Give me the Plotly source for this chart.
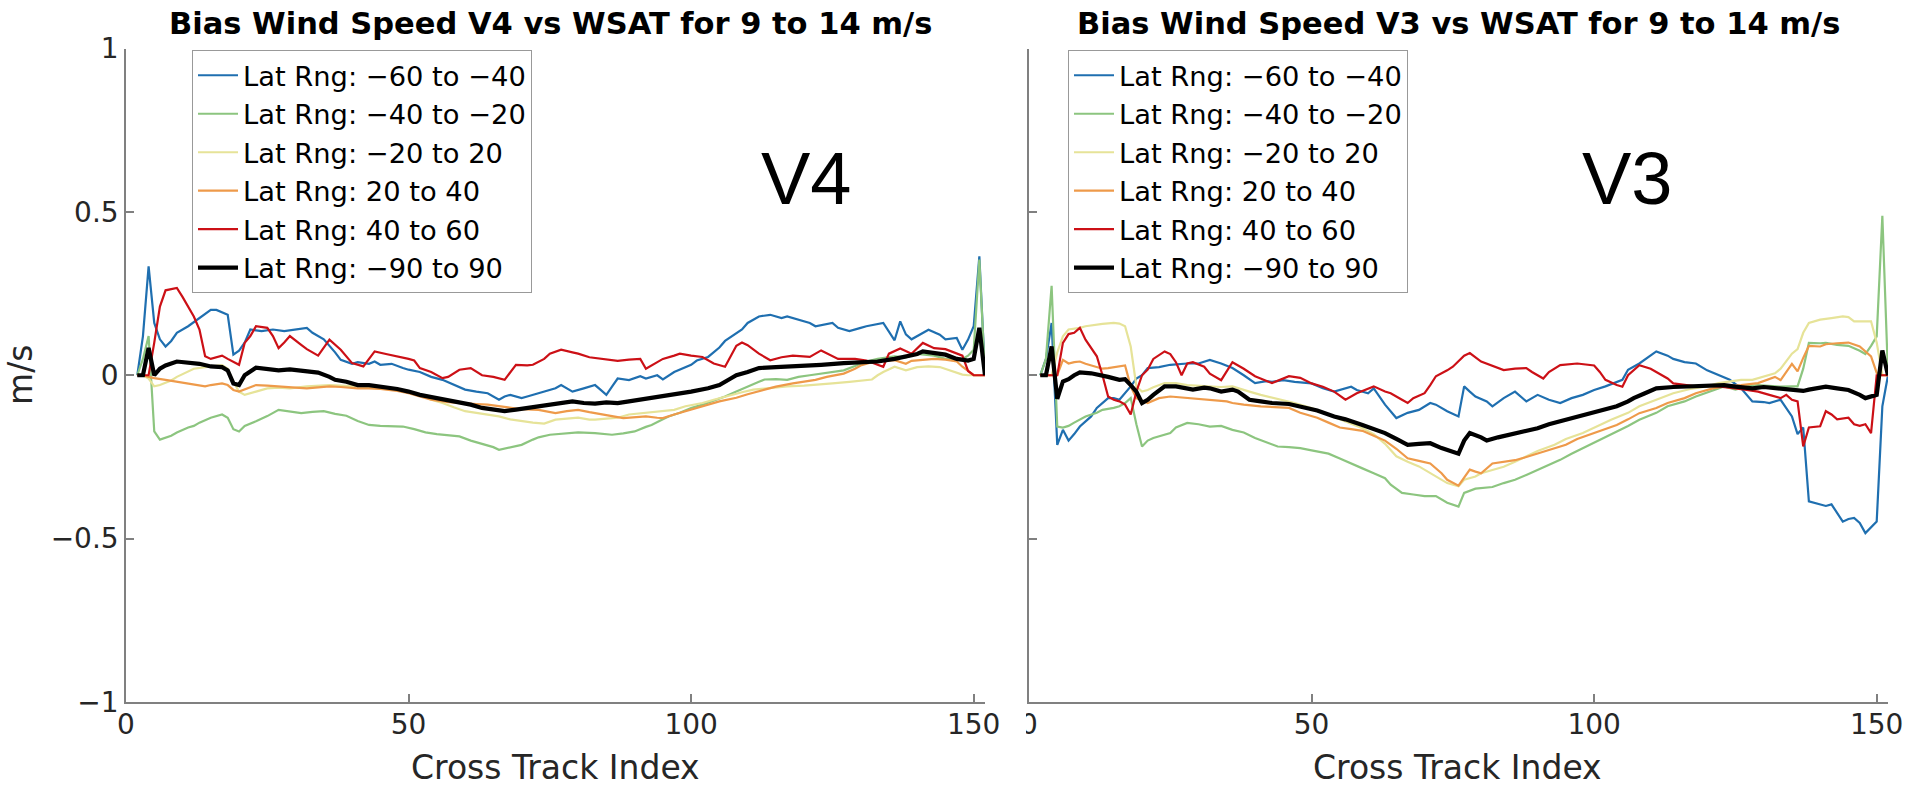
import plotly.graph_objects as go

# ---------------- data ----------------
labels = ["Lat Rng: \u221260 to \u221240", "Lat Rng: \u221240 to \u221220", "Lat Rng: \u221220 to 20",
          "Lat Rng: 20 to 40", "Lat Rng: 40 to 60", "Lat Rng: \u221290 to 90"]
colors = ["#1f6fb0", "#8cc57f", "#e6e398", "#ee9a4a", "#cc1016", "#000000"]
widths = [2.2, 2.2, 2.2, 2.2, 2.2, 4.2]

# ---- V4 ----
v4_blue = [(2,0),(3,0.12),(4,0.333),(5,0.16),(6,0.11),(7,0.088),(8,0.105),(9,0.13),(11,0.15),(13,0.175),(15,0.2),(16,0.2),(18,0.185),(19,0.063),(20,0.075),(21,0.1),(22,0.14),(24,0.135),(26,0.14),(28,0.135),(30,0.14),(32,0.145),(33,0.13),(35,0.11),(37,0.07),(38,0.047),(40,0.035),(41,0.04),(43,0.035),(44,0.042),(45,0.032),(47,0.035),(49,0.022),(50,0.017),(52,0.01),(54,-0.005),(56,-0.014),(58,-0.03),(60,-0.044),(62,-0.05),(64,-0.055),(66,-0.075),(67,-0.065),(68,-0.06),(70,-0.07),(71,-0.065),(73,-0.055),(75,-0.044),(76,-0.04),(77,-0.03),(78,-0.04),(79,-0.05),(81,-0.04),(83,-0.03),(84,-0.045),(85,-0.06),(86,-0.035),(87,-0.01),(89,-0.015),(91,-0.003),(92,-0.01),(94,0.0),(95,-0.013),(97,0.01),(100,0.032),(101,0.045),(103,0.056),(105,0.085),(106,0.105),(109,0.14),(110,0.16),(112,0.18),(114,0.185),(116,0.175),(117,0.18),(119,0.17),(121,0.16),(122,0.15),(125,0.16),(126,0.145),(128,0.135),(130,0.145),(131,0.15),(134,0.16),(136,0.107),(137,0.165),(138,0.125),(139,0.11),(142,0.139),(144,0.124),(145,0.11),(147,0.114),(148,0.078),(149,0.109),(150,0.15),(151,0.364),(152,0)]
v4_green = [(2,0),(3,0.05),(4,0.12),(5,-0.172),(6,-0.197),(7,-0.19),(8,-0.185),(9,-0.175),(11,-0.16),(12,-0.155),(13,-0.145),(15,-0.13),(17,-0.12),(18,-0.13),(19,-0.165),(20,-0.172),(21,-0.155),(23,-0.141),(25,-0.125),(27,-0.106),(29,-0.11),(31,-0.116),(33,-0.112),(35,-0.11),(37,-0.118),(39,-0.124),(41,-0.14),(43,-0.152),(45,-0.155),(47,-0.157),(49,-0.157),(51,-0.165),(53,-0.175),(55,-0.18),(57,-0.183),(59,-0.187),(61,-0.2),(63,-0.21),(65,-0.22),(66,-0.228),(68,-0.22),(70,-0.213),(72,-0.197),(73,-0.19),(75,-0.182),(77,-0.18),(78,-0.177),(80,-0.175),(83,-0.177),(85,-0.18),(86,-0.182),(88,-0.178),(90,-0.172),(92,-0.158),(93,-0.152),(95,-0.135),(96,-0.126),(98,-0.115),(100,-0.1),(102,-0.09),(104,-0.078),(106,-0.065),(108,-0.05),(110,-0.034),(112,-0.02),(113,-0.013),(115,-0.012),(117,-0.014),(119,-0.005),(121,0.0),(123,0.005),(125,0.01),(127,0.015),(129,0.028),(131,0.042),(133,0.05),(136,0.058),(138,0.055),(140,0.065),(143,0.06),(145,0.05),(148,0.05),(149,0.06),(150,0.078),(151,0.354),(152,0)]
v4_yellow = [(2,0),(3,0),(4,-0.01),(5,-0.034),(6,-0.03),(8,-0.016),(9,-0.005),(11,0.01),(12,0.02),(14,0.025),(16,0.03),(17,0.031),(18,0.02),(19,-0.02),(20,-0.05),(21,-0.06),(23,-0.05),(25,-0.04),(27,-0.038),(29,-0.04),(32,-0.034),(34,-0.032),(36,-0.03),(38,-0.032),(41,-0.034),(43,-0.038),(45,-0.04),(48,-0.045),(50,-0.05),(52,-0.06),(54,-0.075),(56,-0.085),(58,-0.098),(60,-0.11),(62,-0.115),(64,-0.12),(66,-0.126),(68,-0.135),(70,-0.141),(72,-0.145),(74,-0.148),(76,-0.136),(78,-0.133),(80,-0.13),(82,-0.136),(83,-0.136),(85,-0.133),(87,-0.13),(89,-0.12),(91,-0.116),(94,-0.11),(97,-0.106),(99,-0.095),(102,-0.085),(104,-0.075),(106,-0.065),(109,-0.052),(111,-0.044),(114,-0.038),(117,-0.034),(120,-0.032),(122,-0.03),(125,-0.025),(128,-0.02),(130,-0.016),(132,-0.013),(133,0.0),(134,0.01),(136,0.026),(138,0.015),(140,0.025),(142,0.027),(144,0.025),(146,0.014),(148,0.002),(149,0.0),(150,0.0),(151,0.0),(152,0)]
v4_orange = [(2,0),(3,0),(4,-0.005),(5,-0.009),(7,-0.014),(9,-0.02),(11,-0.025),(12,-0.03),(14,-0.034),(15,-0.03),(17,-0.025),(18,-0.03),(19,-0.045),(20,-0.05),(22,-0.035),(23,-0.03),(25,-0.032),(27,-0.035),(30,-0.038),(32,-0.04),(34,-0.037),(36,-0.034),(38,-0.036),(41,-0.04),(43,-0.04),(45,-0.042),(48,-0.048),(50,-0.055),(52,-0.065),(54,-0.075),(57,-0.082),(59,-0.085),(62,-0.088),(64,-0.09),(66,-0.095),(68,-0.1),(70,-0.104),(73,-0.106),(75,-0.112),(76,-0.116),(78,-0.11),(80,-0.106),(82,-0.113),(84,-0.12),(86,-0.125),(88,-0.131),(90,-0.128),(92,-0.126),(94,-0.13),(95,-0.131),(97,-0.12),(99,-0.11),(101,-0.1),(103,-0.09),(105,-0.08),(108,-0.069),(110,-0.058),(113,-0.044),(115,-0.035),(118,-0.025),(120,-0.02),(122,-0.014),(124,-0.005),(127,0.005),(129,0.02),(130,0.03),(132,0.04),(134,0.044),(136,0.046),(138,0.035),(139,0.044),(141,0.047),(143,0.05),(145,0.048),(147,0.042),(148,0.026),(149,0.014),(150,0.0),(151,0),(152,0)]
v4_red = [(2,0),(3,0),(4,0),(5,0.1),(6,0.21),(7,0.26),(9,0.267),(10,0.24),(11,0.21),(12,0.18),(13,0.14),(14,0.058),(15,0.05),(16,0.055),(17,0.06),(18,0.05),(19,0.04),(20,0.032),(21,0.099),(22,0.12),(23,0.15),(24,0.148),(25,0.145),(26,0.12),(27,0.083),(28,0.1),(29,0.12),(31,0.093),(32,0.08),(34,0.06),(36,0.109),(38,0.078),(40,0.037),(42,0.027),(44,0.073),(46,0.065),(48,0.058),(50,0.05),(51,0.045),(52,0.022),(54,0.01),(56,-0.009),(57,-0.005),(59,0.017),(61,0.022),(63,0.0),(65,-0.005),(67,-0.014),(69,0.032),(71,0.03),(72,0.032),(74,0.05),(75,0.066),(77,0.078),(79,0.07),(80,0.066),(82,0.055),(84,0.05),(87,0.044),(89,0.048),(91,0.05),(92,0.02),(95,0.05),(97,0.06),(98,0.066),(100,0.06),(102,0.056),(104,0.036),(106,0.026),(108,0.09),(109,0.1),(110,0.092),(112,0.066),(114,0.046),(116,0.055),(118,0.06),(121,0.056),(123,0.076),(126,0.05),(129,0.05),(131,0.045),(134,0.026),(135,0.066),(137,0.082),(139,0.066),(141,0.099),(143,0.083),(145,0.08),(147,0.067),(148,0.06),(149,0.013),(150,0.0),(151,0),(152,0)]
v4_black = [(2,0),(3,0.0),(4,0.084),(5,0.0),(6,0.02),(7,0.03),(9,0.042),(11,0.04),(13,0.035),(15,0.027),(17,0.025),(18,0.015),(19,-0.025),(20,-0.03),(21,0.0),(23,0.023),(25,0.02),(27,0.015),(29,0.018),(32,0.012),(34,0.008),(36,-0.005),(37,-0.014),(39,-0.02),(41,-0.03),(43,-0.03),(45,-0.034),(48,-0.042),(50,-0.05),(52,-0.06),(55,-0.07),(58,-0.08),(61,-0.09),(63,-0.1),(65,-0.105),(67,-0.11),(69,-0.105),(71,-0.1),(73,-0.095),(75,-0.09),(77,-0.085),(79,-0.08),(81,-0.085),(83,-0.087),(85,-0.083),(87,-0.085),(89,-0.08),(91,-0.075),(93,-0.07),(96,-0.06),(100,-0.05),(103,-0.04),(105,-0.03),(107,-0.01),(108,0.0),(110,0.01),(112,0.022),(115,0.025),(118,0.027),(120,0.027),(123,0.032),(127,0.037),(130,0.04),(133,0.042),(136,0.05),(138,0.058),(140,0.065),(141,0.073),(143,0.068),(145,0.063),(147,0.05),(148,0.047),(149,0.045),(150,0.05),(151,0.145),(152,0)]

# ---- V3 ----
v3_blue = [(2,0),(3,0.05),(4,0.16),(5,-0.213),(6,-0.167),(7,-0.2),(8,-0.18),(9,-0.157),(11,-0.126),(12,-0.1),(14,-0.07),(15,-0.07),(16,-0.075),(17,-0.055),(18,-0.034),(19,-0.01),(20,0.0),(21,0.022),(23,0.025),(25,0.032),(28,0.036),(30,0.036),(32,0.047),(34,0.036),(36,0.022),(38,0.0),(40,-0.024),(42,-0.018),(43,-0.02),(45,-0.015),(47,-0.02),(50,-0.025),(52,-0.04),(54,-0.05),(55,-0.045),(57,-0.035),(58,-0.045),(60,-0.055),(61,-0.04),(63,-0.09),(65,-0.131),(67,-0.115),(69,-0.106),(71,-0.085),(72,-0.09),(74,-0.11),(76,-0.126),(77,-0.034),(78,-0.05),(79,-0.065),(81,-0.08),(82,-0.095),(84,-0.07),(86,-0.05),(88,-0.08),(90,-0.06),(92,-0.075),(94,-0.085),(96,-0.07),(98,-0.06),(100,-0.045),(102,-0.034),(105,-0.014),(106,0.017),(108,0.036),(110,0.06),(111,0.073),(113,0.06),(114,0.05),(116,0.04),(118,0.036),(120,0.015),(122,0.0),(124,-0.014),(126,-0.04),(128,-0.08),(130,-0.082),(131,-0.085),(133,-0.075),(135,-0.126),(136,-0.18),(137,-0.16),(138,-0.386),(139,-0.39),(141,-0.4),(142,-0.395),(143,-0.42),(144,-0.448),(145,-0.44),(146,-0.437),(147,-0.452),(148,-0.483),(150,-0.448),(151,-0.095),(152,0)]
v3_green = [(2,0),(3,0.05),(4,0.274),(5,-0.157),(6,-0.16),(7,-0.155),(8,-0.145),(9,-0.135),(10,-0.126),(12,-0.115),(13,-0.106),(15,-0.1),(16,-0.095),(17,-0.085),(18,-0.07),(19,-0.15),(20,-0.218),(21,-0.2),(22,-0.192),(25,-0.177),(26,-0.16),(28,-0.146),(30,-0.15),(32,-0.157),(34,-0.155),(36,-0.167),(38,-0.175),(40,-0.192),(42,-0.205),(44,-0.218),(46,-0.22),(48,-0.223),(50,-0.23),(53,-0.24),(55,-0.255),(57,-0.269),(59,-0.285),(61,-0.3),(63,-0.315),(64,-0.335),(66,-0.36),(68,-0.365),(70,-0.37),(72,-0.37),(74,-0.39),(76,-0.402),(77,-0.36),(79,-0.347),(80,-0.345),(82,-0.342),(84,-0.33),(86,-0.32),(88,-0.305),(90,-0.29),(92,-0.275),(94,-0.259),(96,-0.24),(98,-0.223),(100,-0.205),(103,-0.182),(106,-0.155),(108,-0.136),(111,-0.115),(113,-0.095),(116,-0.08),(118,-0.065),(121,-0.045),(123,-0.034),(125,-0.044),(127,-0.034),(129,-0.03),(131,-0.032),(133,-0.035),(135,-0.034),(136,-0.034),(137,0.02),(138,0.099),(140,0.098),(141,0.099),(143,0.093),(145,0.09),(147,0.075),(148,0.065),(149,0.09),(150,0.119),(151,0.488),(152,0)]
v3_yellow = [(2,0),(3,0),(4,0),(5,0.07),(6,0.119),(7,0.14),(9,0.145),(10,0.15),(12,0.155),(13,0.157),(15,0.16),(16,0.158),(17,0.15),(18,0.088),(19,-0.034),(20,-0.05),(21,-0.045),(22,-0.037),(24,-0.024),(26,-0.024),(28,-0.03),(30,-0.032),(32,-0.034),(34,-0.036),(36,-0.034),(37,-0.04),(39,-0.05),(41,-0.06),(44,-0.072),(47,-0.085),(50,-0.1),(53,-0.121),(56,-0.14),(59,-0.162),(61,-0.18),(63,-0.21),(65,-0.248),(67,-0.265),(69,-0.279),(71,-0.3),(73,-0.32),(74,-0.33),(76,-0.34),(77,-0.32),(79,-0.31),(80,-0.3),(82,-0.29),(84,-0.28),(86,-0.265),(88,-0.248),(90,-0.232),(93,-0.213),(95,-0.195),(98,-0.177),(100,-0.16),(103,-0.136),(106,-0.115),(108,-0.095),(111,-0.075),(114,-0.055),(117,-0.042),(120,-0.034),(122,-0.024),(124,-0.018),(126,-0.014),(128,-0.014),(130,-0.005),(132,0.006),(133,0.02),(135,0.066),(136,0.08),(137,0.13),(138,0.16),(140,0.17),(142,0.175),(144,0.18),(145,0.178),(146,0.165),(148,0.165),(149,0.165),(150,0.1),(151,0.0),(152,0)]
v3_orange = [(2,0),(3,0),(4,0),(5,0.0),(6,0.047),(7,0.036),(8,0.04),(9,0.042),(10,0.035),(11,0.03),(13,0.02),(14,0.022),(15,0.025),(17,0.03),(18,-0.034),(19,-0.07),(21,-0.085),(23,-0.07),(25,-0.065),(27,-0.068),(29,-0.07),(31,-0.072),(33,-0.075),(35,-0.08),(36,-0.085),(38,-0.09),(41,-0.095),(44,-0.097),(46,-0.1),(48,-0.115),(51,-0.13),(53,-0.145),(55,-0.16),(57,-0.165),(59,-0.17),(61,-0.185),(63,-0.2),(65,-0.225),(67,-0.254),(69,-0.262),(71,-0.27),(73,-0.3),(74,-0.32),(76,-0.338),(78,-0.289),(79,-0.295),(80,-0.3),(82,-0.27),(84,-0.265),(86,-0.26),(88,-0.25),(90,-0.24),(92,-0.228),(95,-0.213),(97,-0.195),(100,-0.177),(102,-0.165),(104,-0.152),(106,-0.135),(108,-0.116),(111,-0.1),(113,-0.085),(116,-0.07),(118,-0.055),(121,-0.04),(123,-0.034),(126,-0.03),(129,-0.024),(132,-0.005),(133,-0.015),(135,0.035),(136,0.012),(137,0.053),(138,0.09),(140,0.088),(141,0.095),(143,0.098),(145,0.1),(147,0.088),(149,0.058),(150,0.007),(151,0),(152,0)]
v3_red = [(2,0),(3,0),(4,0),(5,0.0),(6,0.099),(7,0.126),(8,0.13),(9,0.145),(10,0.109),(11,0.085),(12,0.058),(13,0.0),(14,-0.065),(15,-0.075),(16,-0.08),(17,-0.09),(18,-0.12),(19,-0.05),(20,0.0),(21,0.017),(22,0.05),(24,0.073),(25,0.065),(26,0.04),(27,0.0),(28,0.036),(29,0.04),(31,0.026),(32,0.005),(34,-0.015),(36,0.04),(37,0.03),(38,0.02),(40,-0.003),(43,-0.024),(46,-0.003),(48,-0.008),(50,-0.025),(52,-0.035),(54,-0.05),(56,-0.075),(58,-0.055),(61,-0.034),(63,-0.05),(64,-0.055),(66,-0.075),(67,-0.085),(68,-0.07),(70,-0.055),(71,-0.03),(72,-0.003),(74,0.015),(75,0.026),(77,0.06),(78,0.068),(80,0.042),(82,0.03),(84,0.016),(86,0.02),(88,0.022),(89,0.01),(91,-0.01),(92,0.01),(94,0.031),(97,0.036),(100,0.03),(101,0.01),(102,-0.014),(104,-0.03),(105,-0.035),(106,0.0),(108,0.031),(110,0.02),(111,0.01),(113,-0.01),(114,-0.025),(116,-0.03),(118,-0.034),(120,-0.03),(123,-0.035),(125,-0.04),(127,-0.045),(129,-0.05),(131,-0.06),(133,-0.07),(134,-0.06),(135,-0.075),(136,-0.08),(137,-0.218),(138,-0.16),(140,-0.156),(141,-0.11),(142,-0.12),(143,-0.135),(145,-0.13),(146,-0.15),(147,-0.155),(148,-0.15),(149,-0.177),(150,0.0),(151,0),(152,0)]
v3_black = [(2,0),(3,0),(4,0.088),(5,-0.072),(6,-0.019),(7,-0.012),(8,0.0),(9,0.009),(11,0.006),(13,0.0),(14,-0.005),(16,-0.014),(17,-0.012),(18,-0.03),(19,-0.05),(20,-0.085),(21,-0.075),(22,-0.06),(24,-0.034),(26,-0.034),(28,-0.04),(29,-0.044),(31,-0.038),(32,-0.04),(34,-0.05),(36,-0.044),(37,-0.05),(39,-0.075),(41,-0.08),(43,-0.085),(46,-0.088),(48,-0.095),(51,-0.108),(54,-0.126),(56,-0.135),(59,-0.152),(61,-0.165),(63,-0.177),(65,-0.195),(67,-0.213),(69,-0.21),(71,-0.208),(73,-0.223),(74,-0.228),(76,-0.24),(77,-0.2),(78,-0.177),(80,-0.19),(81,-0.2),(83,-0.19),(86,-0.177),(88,-0.17),(90,-0.162),(92,-0.15),(94,-0.141),(97,-0.125),(99,-0.116),(102,-0.105),(104,-0.095),(106,-0.08),(107,-0.07),(109,-0.055),(111,-0.04),(114,-0.036),(117,-0.034),(120,-0.032),(123,-0.03),(125,-0.035),(128,-0.04),(130,-0.036),(133,-0.04),(135,-0.045),(137,-0.048),(138,-0.044),(141,-0.035),(143,-0.04),(145,-0.045),(147,-0.06),(148,-0.07),(150,-0.06),(151,0.076),(152,0.0)]

v4_series = [v4_blue, v4_green, v4_yellow, v4_orange, v4_red, v4_black]
v3_series = [v3_blue, v3_green, v3_yellow, v3_orange, v3_red, v3_black]

x_ticks = [0, 50, 100, 150]
y_ticks = [-1, -0.5, 0, 0.5, 1]

# ---------------- figure ----------------
W, H = 1913, 788
fig = go.Figure()

for series, xa, ya, lg in [(v4_series, "x", "y", "legend"), (v3_series, "x2", "y2", "legend2")]:
    for pts, name, col, w in zip(series, labels, colors, widths):
        fig.add_trace(go.Scatter(
            x=[p[0] for p in pts], y=[p[1] for p in pts], mode="lines", name=name,
            line=dict(color=col, width=w), xaxis=xa, yaxis=ya, legend=lg))

axis_line = "#808080"
tick_font = dict(family="DejaVu Sans", size=28, color="#262626")
common = dict(showline=True, linecolor=axis_line, linewidth=1.5, ticks="inside", ticklen=8,
              tickcolor=axis_line, tickwidth=1.5, showgrid=False, zeroline=False,
              tickfont=tick_font, mirror=False, automargin=False)

ydom = [(H - 702) / H, (H - 48.5) / H]
leg_common = dict(xanchor="left", yanchor="top", bgcolor="white", bordercolor="#999999",
                  borderwidth=1, itemwidth=40,
                  font=dict(family="DejaVu Sans", size=27.3, color="black"))
fig.update_layout(
    template="none",
    width=W, height=H, margin=dict(l=0, r=0, t=0, b=0, pad=0), autosize=False,
    paper_bgcolor="white", plot_bgcolor="white",
    xaxis=dict(domain=[126 / W, 985 / W], range=[0, 152], tickvals=x_ticks, anchor="y",
               ticklabelstandoff=-3, **common),
    yaxis=dict(domain=ydom, range=[-1, 1], tickvals=y_ticks, anchor="x", **common),
    xaxis2=dict(domain=[1029 / W, 1888 / W], range=[0, 152], tickvals=x_ticks, anchor="y2",
                ticklabelstandoff=-3, **common),
    yaxis2=dict(domain=ydom, range=[-1, 1], tickvals=y_ticks, anchor="x2", showticklabels=False, **common),
    legend=dict(x=192 / W, y=(H - 50) / H, **leg_common),
    legend2=dict(x=1068 / W, y=(H - 50) / H, **leg_common),
    showlegend=True,
)

ann_font = dict(family="DejaVu Sans", size=33, color="#262626")
anns = [
    dict(text="<b>Bias Wind Speed V4 vs WSAT for 9 to 14 m/s</b>", x=550 / W, y=(H - 24) / H,
         font=dict(family="DejaVu Sans", size=30.5, color="black")),
    dict(text="<b>Bias Wind Speed V3 vs WSAT for 9 to 14 m/s</b>", x=1458 / W, y=(H - 24) / H,
         font=dict(family="DejaVu Sans", size=30.5, color="black")),
    dict(text="V4", x=806 / W, y=(H - 178.5) / H, font=dict(family="Liberation Sans", size=74, color="black")),
    dict(text="V3", x=1627 / W, y=(H - 178.5) / H, font=dict(family="Liberation Sans", size=74, color="black")),
    dict(text="m/s", x=21 / W, y=(H - 375) / H, textangle=-90, font=ann_font),
    dict(text="Cross Track Index", x=555 / W, y=(H - 767) / H, font=ann_font),
    dict(text="Cross Track Index", x=1457 / W, y=(H - 767) / H, font=ann_font),
]
for a in anns:
    a.update(xref="paper", yref="paper", showarrow=False, xanchor="center", yanchor="middle")
fig.update_layout(annotations=anns)

# the right panel's "0" tick label is cut by the edge of the left panel image
fig.add_shape(type="rect", xref="paper", yref="paper", x0=1003 / W, x1=1026 / W,
              y0=(H - 748) / H, y1=(H - 704) / H, fillcolor="white", line=dict(width=0), layer="above")

fig.write_html("out.html", config={"displayModeBar": False},
               post_script="document.body.style.margin='0';document.body.style.overflow='hidden';")
